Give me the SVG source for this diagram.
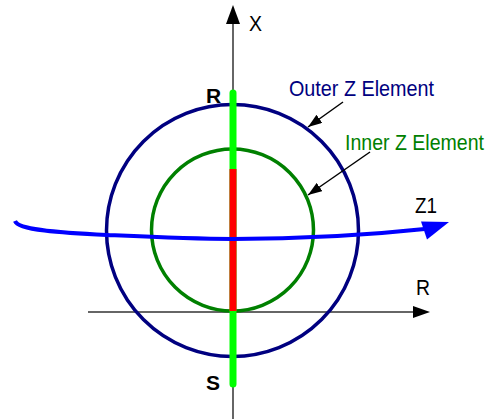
<svg xmlns="http://www.w3.org/2000/svg" width="494" height="419" viewBox="0 0 494 419">
<style>
.lbl{font-family:"Liberation Sans",Arial,sans-serif;font-size:22.5px}
.b{font-weight:bold;font-size:21px}
.ax{stroke:#333;stroke-width:1.5;fill:none}
</style>
<defs>
<marker id="lead" viewBox="0 0 14 10" refX="14" refY="5" markerWidth="14" markerHeight="10" markerUnits="userSpaceOnUse" orient="auto">
<path d="M0,0 L14,5 L0,10 Z" fill="#000"/>
</marker>
</defs>
<rect width="494" height="419" fill="#fff"/>
<g id="axes">
<line class="ax" x1="233" y1="22" x2="233" y2="419"/>
<polygon points="233,5 226,24 240,24" fill="#000"/>
<line class="ax" x1="88" y1="312" x2="415" y2="312"/>
<polygon points="430,312 413,306 413,318" fill="#000"/>
</g>
<g id="outer">
<circle cx="232.5" cy="230.5" r="126" fill="none" stroke="#000080" stroke-width="3.5"/>
</g>
<g id="inner">
<circle cx="232.5" cy="230" r="81" fill="none" stroke="#008000" stroke-width="3.5"/>
</g>
<g id="bar">
<line x1="233" y1="93" x2="233" y2="384" stroke="#00ff00" stroke-width="7" stroke-linecap="round"/>
<line x1="233" y1="169" x2="233" y2="311" stroke="#ff0000" stroke-width="7"/>
</g>
<g id="z1">
<path d="M15,221 C18,230 60,233 107,235 C150,237 190,239 233,239 C300,239 360,236 430,228.5" fill="none" stroke="#0000ff" stroke-width="4"/>
<polygon points="449,222 421,221.5 427,239.5" fill="#0000ff"/>
</g>
<g id="connectors">
<line x1="343" y1="102" x2="308" y2="127" stroke="#000" stroke-width="1.5" marker-end="url(#lead)"/>
<line x1="370" y1="152" x2="308" y2="195" stroke="#000" stroke-width="1.5" marker-end="url(#lead)"/>
</g>
<g id="labels">
<text class="lbl" x="249" y="31" textLength="13" lengthAdjust="spacingAndGlyphs">X</text>
<text class="lbl b" x="206" y="103">R</text>
<text class="lbl b" x="206" y="390">S</text>
<text class="lbl" x="416" y="295" textLength="14" lengthAdjust="spacingAndGlyphs">R</text>
<text class="lbl" x="415" y="213" textLength="22" lengthAdjust="spacingAndGlyphs">Z1</text>
<text class="lbl" x="289" y="95.5" fill="#000080" font-size="23.5" textLength="145" lengthAdjust="spacingAndGlyphs">Outer Z Element</text>
<text class="lbl" x="345" y="149.5" fill="#008000" textLength="139" lengthAdjust="spacingAndGlyphs">Inner Z Element</text>
</g>
</svg>
